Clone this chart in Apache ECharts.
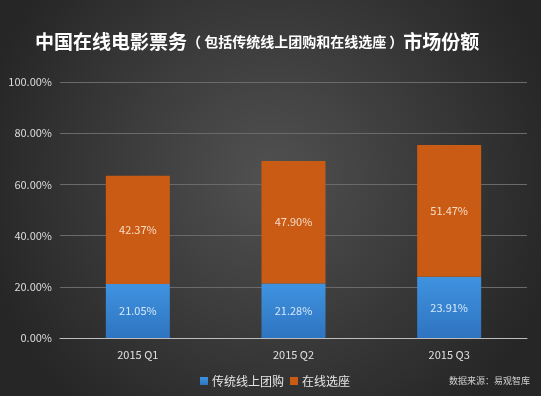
<!DOCTYPE html>
<html>
<head>
<meta charset="utf-8">
<script src="https://cdn.jsdelivr.net/npm/echarts@6/dist/echarts.min.js"></script>
<style>
  html, body { margin: 0; padding: 0; }
  #chart { width: 541px; height: 396px; }
</style>
</head>
<body>
<div id="chart"></div>
<script>
  // 数据
  var categories = ['2015 Q1', '2015 Q2', '2015 Q3'];
  var groupBuy = [21.05, 21.28, 23.91];   // 传统线上团购
  var seatPick = [42.37, 47.90, 51.47];   // 在线选座
  var seriesNames = ['传统线上团购', '在线选座'];

  var chart = echarts.init(document.getElementById('chart'));
  var font = '"Noto Sans CJK SC", "Open Sans", sans-serif';

  var option = {
    backgroundColor: {
      type: 'radial', x: 0.5, y: 0.45, r: 0.75,
      colorStops: [
        { offset: 0, color: '#515151' },
        { offset: 1, color: '#262626' }
      ]
    },
    textStyle: { fontFamily: font },
    title: {
      text: '{big|中国在线电影票务}{small|（ 包括传统线上团购和在线选座 ）}{big|市场份额}',
      left: 30,
      top: 27,
      textStyle: {
        rich: {
          big: { fontSize: 19, fontWeight: 'bold', color: '#ffffff', fontFamily: font },
          small: { fontSize: 14, fontWeight: 'bold', color: '#ffffff', fontFamily: font }
        }
      }
    },
    legend: {
      data: seriesNames,
      left: 195,
      top: 370,
      itemWidth: 8,
      itemHeight: 8,
      itemGap: 6,
      icon: 'rect',
      textStyle: { color: '#e6e6e6', fontSize: 12, padding: [0, 0, 0, -1] }
    },
    graphic: [{
      type: 'text',
      right: 11,
      top: 376,
      style: { text: '数据来源：易观智库', fill: '#cfcfcf', fontSize: 9, fontFamily: font }
    }],
    grid: { left: 60, right: 14, top: 82, bottom: 58 },
    xAxis: {
      type: 'category',
      data: categories,
      axisLine: { lineStyle: { color: '#bdbdbd', width: 1 } },
      axisTick: { show: false },
      axisLabel: { color: '#e0e0e0', fontSize: 11, margin: 11 }
    },
    yAxis: {
      type: 'value',
      min: 0, max: 100, interval: 20,
      axisLine: { show: false },
      axisTick: { show: false },
      axisLabel: {
        color: '#dcdcdc', fontSize: 11, margin: 8,
        formatter: function (v) { return v.toFixed(2) + '%'; }
      },
      splitLine: { lineStyle: { color: '#6a6a6a', width: 1 } }
    },
    series: [{
      name: seriesNames[0],
      type: 'bar',
      stack: 'total',
      barWidth: 64,
      data: groupBuy,
      itemStyle: {
        color: {
          type: 'linear', x: 0, y: 0, x2: 0, y2: 1,
          colorStops: [{ offset: 0, color: '#3f93e0' }, { offset: 1, color: '#2f74c0' }]
        }
      },
      label: {
        show: true, position: 'inside', color: '#d6e9fb', fontSize: 11,
        formatter: function (p) { return p.value.toFixed(2) + '%'; }
      }
    }, {
      name: seriesNames[1],
      type: 'bar',
      stack: 'total',
      barWidth: 64,
      data: seatPick,
      itemStyle: { color: '#c95b14' },
      label: {
        show: true, position: 'inside', color: '#f8dcc6', fontSize: 11,
        formatter: function (p) { return p.value.toFixed(2) + '%'; }
      }
    }]
  };

  chart.setOption(option);
</script>
</body>
</html>
